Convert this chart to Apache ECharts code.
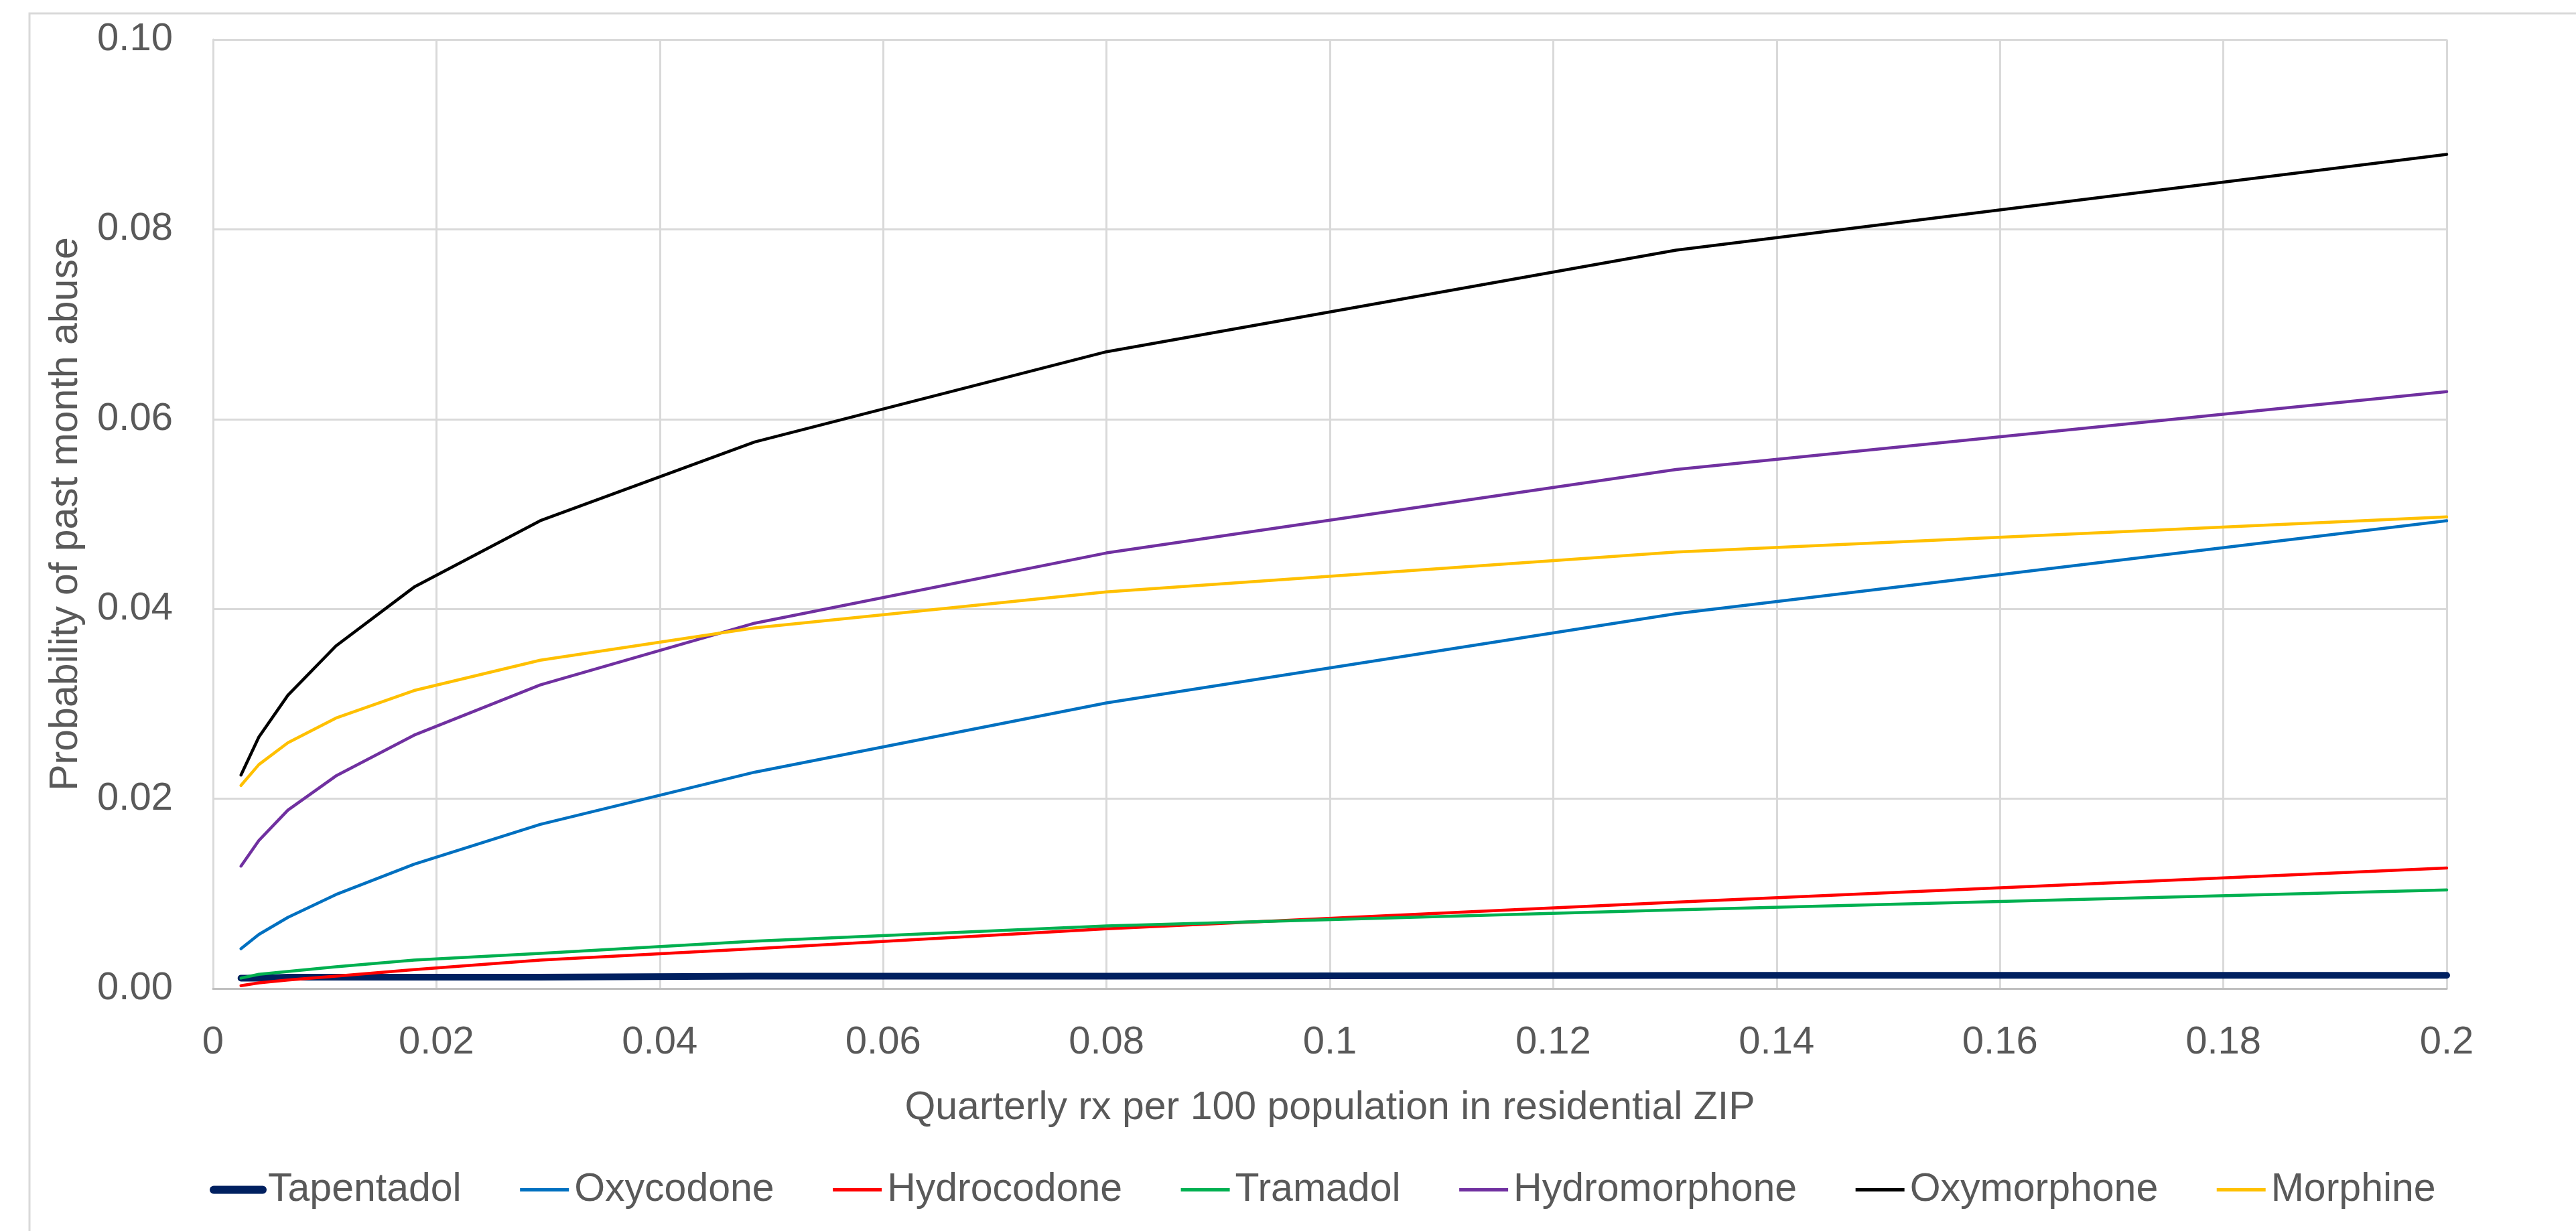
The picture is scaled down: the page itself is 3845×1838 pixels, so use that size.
<!DOCTYPE html>
<html>
<head>
<meta charset="utf-8">
<script src="https://cdn.jsdelivr.net/npm/echarts@6/dist/echarts.min.js"></script>
<style>
html,body{margin:0;padding:0;background:#fff;}
#chart{width:3845px;height:1838px;}
</style>
</head>
<body>
<div id="chart"></div>
<script>
const xValues = [0.0025, 0.0041, 0.0067, 0.011, 0.018, 0.0293, 0.0485, 0.08, 0.131, 0.2];
const tapentadol    = [0.0011, 0.0011, 0.0012, 0.0012, 0.0012, 0.0012, 0.0013, 0.0013, 0.0014, 0.0014];
const oxycodone     = [0.0042, 0.0057, 0.0075, 0.0099, 0.0131, 0.0173, 0.0228, 0.0301, 0.0395, 0.0493];
const hydrocodone   = [0.0003, 0.0006, 0.0009, 0.0013, 0.0020, 0.0030, 0.0042, 0.0063, 0.0091, 0.0127];
const tramadol      = [0.0011, 0.0015, 0.0018, 0.0023, 0.0030, 0.0037, 0.0050, 0.0066, 0.0083, 0.0104];
const hydromorphone = [0.0129, 0.0156, 0.0188, 0.0224, 0.0267, 0.0320, 0.0385, 0.0459, 0.0547, 0.0629];
const oxymorphone   = [0.0225, 0.0265, 0.0309, 0.0361, 0.0423, 0.0493, 0.0576, 0.0671, 0.0778, 0.0879];
const morphine      = [0.0214, 0.0236, 0.0259, 0.0285, 0.0314, 0.0346, 0.0380, 0.0418, 0.0460, 0.0497];

const seriesNames = ['Tapentadol', 'Oxycodone', 'Hydrocodone', 'Tramadol', 'Hydromorphone', 'Oxymorphone', 'Morphine'];
const seriesValues = [tapentadol, oxycodone, hydrocodone, tramadol, hydromorphone, oxymorphone, morphine];
const seriesColors = ['#002060', '#0070C0', '#FF0000', '#00B050', '#7030A0', '#000000', '#FFC000'];
const seriesWidths = [10, 4.5, 4.5, 4.5, 4.5, 4.5, 4.5];
const legendWidths = [12, 5, 5, 5, 5, 5, 5];

const xTitle = 'Quarterly rx per 100 population in residential ZIP';
const yTitle = 'Probability of past month abuse';

const FONT = '"Liberation Sans", Arial, sans-serif';
const TXT = '#595959';

const chart = echarts.init(document.getElementById('chart'), null, {renderer: 'canvas'});

const series = seriesNames.map((name, i) => ({
  name: name,
  type: 'line',
  data: xValues.map((x, j) => [x, seriesValues[i][j]]),
  symbol: 'none',
  smooth: false,
  lineStyle: {color: seriesColors[i], width: seriesWidths[i], cap: 'round', join: 'round'},
  itemStyle: {color: seriesColors[i]},
  emphasis: {disabled: true}
}));

const legendData = seriesNames.map((name, i) => ({
  name: name,
  itemStyle: {opacity: 0},
  lineStyle: {color: seriesColors[i], width: legendWidths[i], cap: i === 0 ? 'round' : 'butt'}
}));

chart.setOption({
  animation: false,
  backgroundColor: '#ffffff',
  textStyle: {fontFamily: FONT},
  graphic: [{
    type: 'rect',
    shape: {x: 44, y: 20, width: 3900, height: 1900},
    style: {fill: 'none', stroke: '#D9D9D9', lineWidth: 3},
    silent: true
  }],
  grid: {left: 318, right: 193, top: 59, bottom: 362},
  xAxis: {
    type: 'value',
    min: 0, max: 0.2, interval: 0.02,
    name: xTitle,
    nameLocation: 'middle',
    nameGap: 149,
    nameTextStyle: {fontSize: 59, color: TXT, fontFamily: FONT},
    axisLine: {show: true, lineStyle: {color: '#BFBFBF', width: 3}},
    axisTick: {show: false},
    axisLabel: {fontSize: 58, color: TXT, margin: 52, fontFamily: FONT},
    splitLine: {show: true, lineStyle: {color: '#D9D9D9', width: 3}}
  },
  yAxis: {
    type: 'value',
    min: 0, max: 0.1, interval: 0.02,
    name: yTitle,
    nameLocation: 'middle',
    nameGap: 190,
    nameTextStyle: {fontSize: 59, color: TXT, fontFamily: FONT},
    axisLine: {show: true, lineStyle: {color: '#D9D9D9', width: 3}},
    axisTick: {show: false},
    axisLabel: {fontSize: 58, color: TXT, margin: 60, fontFamily: FONT, formatter: v => v.toFixed(2)},
    splitLine: {show: true, lineStyle: {color: '#D9D9D9', width: 3}}
  },
  legend: {
    data: legendData,
    left: 308,
    top: 1742,
    itemWidth: 73,
    itemHeight: 14,
    itemGap: 85,
    textStyle: {fontSize: 59, color: TXT, fontFamily: FONT, padding: [0, 0, 0, 3]},
    selectedMode: false
  },
  series: series
});
</script>
</body>
</html>
